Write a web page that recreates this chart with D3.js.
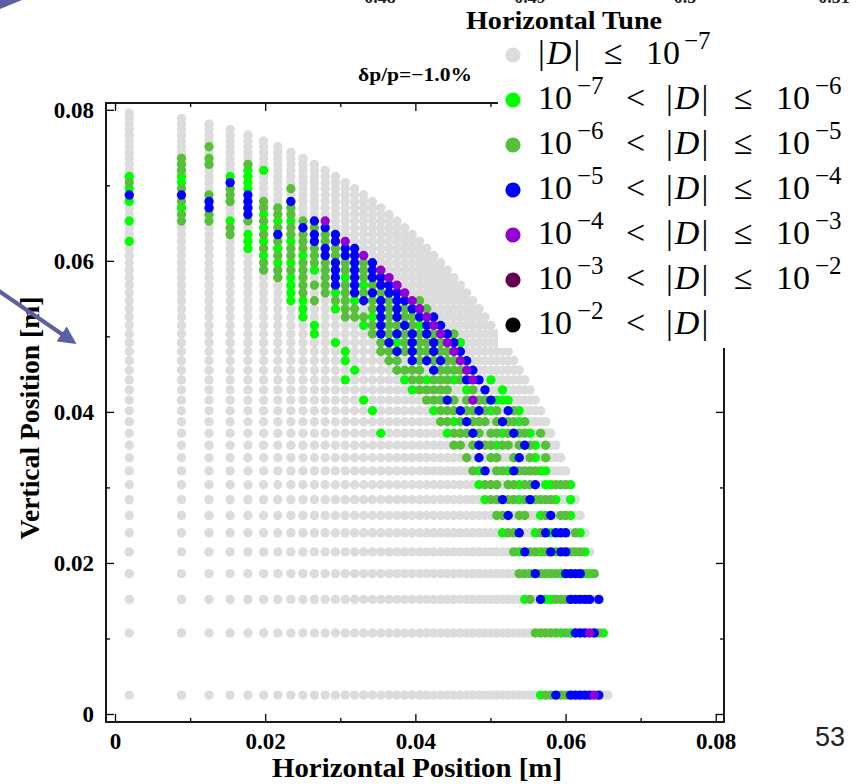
<!DOCTYPE html>
<html>
<head>
<meta charset="utf-8">
<script src="https://cdn.jsdelivr.net/npm/d3@7"></script>
<style>
  body { margin: 0; background: #fff; }
  svg { display: block; }
  text { white-space: pre; }
</style>
</head>
<body>
<svg id="chart" width="860" height="784"></svg>
<script>
// Horizontal launch amplitudes of the scan grid [m], one per column
const colX = [0.0019, 0.00885, 0.01252, 0.01533, 0.01770, 0.01979, 0.02168, 0.02342, 0.02503, 0.02655,
  0.02799, 0.02935, 0.03066, 0.03191, 0.03311, 0.03428, 0.03540, 0.03649, 0.03755, 0.03858,
  0.03958, 0.04056, 0.04151, 0.04244, 0.04336, 0.04425, 0.04513, 0.04599, 0.04683, 0.04766,
  0.04847, 0.04927, 0.05006, 0.05084, 0.05160, 0.05236, 0.05310, 0.05383, 0.05456, 0.05527,
  0.05597, 0.05667, 0.05735, 0.05803, 0.05870, 0.05937, 0.06002, 0.06067, 0.06131, 0.06195,
  0.06258, 0.06320, 0.06382, 0.06443, 0.06503, 0.06563];

// Vertical launch amplitudes [m], one per row
const rowY = [0.0025, 0.01073, 0.01517, 0.01858, 0.02146, 0.02399, 0.02628, 0.02839, 0.03035, 0.03219,
  0.03393, 0.03559, 0.03717, 0.03869, 0.04015, 0.04156, 0.04292, 0.04424, 0.04552, 0.04677,
  0.04799, 0.04917, 0.05033, 0.05146, 0.05257, 0.05365, 0.05471, 0.05576, 0.05678, 0.05778,
  0.05877, 0.05974, 0.06070, 0.06164, 0.06257, 0.06348, 0.06438, 0.06527, 0.06614, 0.06701,
  0.06786, 0.06871, 0.06954, 0.07036, 0.07117, 0.07198, 0.07277, 0.07356, 0.07434, 0.07511,
  0.07587, 0.07663, 0.07738, 0.07812, 0.07885, 0.07958];

// Last surviving column of every row
const rowLast = [55, 54, 53, 52, 51, 50, 49, 48, 47, 46, 45, 44, 43, 42, 41, 40, 39, 38, 37, 36,
  35, 34, 33, 32, 31, 30, 29, 28, 27, 26, 25, 24, 23, 22, 21, 20, 19, 18, 17, 16,
  15, 14, 13, 12, 11, 10, 9, 8, 7, 6, 5, 4, 3, 2, 1, 0];

// Diffusion class per particle: first column covered by the code string of each row,
// then one character per column ('.' |D|<=1e-7, 'l' 1e-7..1e-6, 'g' 1e-6..1e-5,
// 'b' 1e-5..1e-4, 'p' 1e-4..1e-3, 'm' 1e-3..1e-2, 'k' above 1e-2)
const codeStart = [41, 40, 38, 37, 36, 34, 33, 31, 30, 29,
  28, 26, 16, 24, 15, 14, 20, 12, 13, 12,
  12, 11, 9, 9, 8, 8, 7, 7, 7, 6,
  5, 5, 5, 4, 0, 3, 3, 0, 1, 1,
  0, 0, 0, 0, 0, 1, 1, 1, 0, 2];
const codeRows = [
  "lggbggbbbbbpb",
  "ggggglglbbbpbgl",
  "lg.bllgggbbbbb.b",
  "gggbgggglbbbbglg",
  "glbgglgblbbgggl",
  "lggb..lgblbbb.gl",
  "ggb.gg..lgb.ggl",
  "lggbgglgbggggl..l",
  "lggg.gglggb.llgggl",
  "glb.gglbggggll",
  "g.b.gg..gb.gl.g",
  "gg.gbgglgg.gbgl.g",
  "l........lgggbg.gglgbggl.g",
  "gglgbggg.gbgglg",
  "l.......lgggbggbglg.bgl",
  "l.......gggbg.gpggblll",
  "lggggg..lg.b..l",
  "l......lgglggglgbpb.l",
  "l....gggg.bggggpb",
  "l....gg.bgbgbggpb",
  "l...ggbgbggbggpb",
  "l....gblgbggbgpbl",
  "l.....gbgbgbgbgpbg",
  "l....lgbggbglbpb",
  "l...ggglbgbggbpb",
  "l..lgg.gbgbgbpg",
  "llg.gglbgbgbbpg",
  "lg.glgbgbgbbp",
  "lgggbgblgbbp",
  "glg.gblbgbbp",
  "gggglgbgbgbp",
  "gllgggbgbgb",
  "lgglgbgbbp",
  "lglgggbgbb",
  "l...llglgbgbp",
  "glgbggbgb",
  "g.lggbgb",
  "lgglggllgbp",
  "gg.blgg",
  "lb.bggg",
  "lgbgbg.b",
  "bbggb",
  "lg.gl..g",
  "gl.bl",
  "ll.ll",
  "g..ll",
  "gg.g",
  "gg",
  "",
  "g"
];

const classKeys = [".", "l", "g", "b", "p", "m", "k"];
const classColors = ["#dcdcdc", "#00ff00", "#57c03a", "#0000ff", "#9400d3", "#640050", "#000000"];

// Legend entries: [text, x position, kind] with kind 0 upright, 1 |D|, 2 superscript
const legendPieces = [
  [["|D|", 538, 1], ["≤", 604, 0], ["10", 646, 0], ["−7", 684, 2]],
  [["10", 538, 0], ["−7", 577, 2], ["<", 626, 0], ["|D|", 666, 1], ["≤", 734, 0], ["10", 776, 0], ["−6", 815, 2]],
  [["10", 538, 0], ["−6", 577, 2], ["<", 626, 0], ["|D|", 666, 1], ["≤", 734, 0], ["10", 776, 0], ["−5", 815, 2]],
  [["10", 538, 0], ["−5", 577, 2], ["<", 626, 0], ["|D|", 666, 1], ["≤", 734, 0], ["10", 776, 0], ["−4", 815, 2]],
  [["10", 538, 0], ["−4", 577, 2], ["<", 626, 0], ["|D|", 666, 1], ["≤", 734, 0], ["10", 776, 0], ["−3", 815, 2]],
  [["10", 538, 0], ["−3", 577, 2], ["<", 626, 0], ["|D|", 666, 1], ["≤", 734, 0], ["10", 776, 0], ["−2", 815, 2]],
  [["10", 538, 0], ["−2", 577, 2], ["<", 626, 0], ["|D|", 666, 1]]
];

const majorTicks = [0, 0.02, 0.04, 0.06, 0.08];
const minorTicks = [0.01, 0.03, 0.05, 0.07];
const tuneTickLabels = ["0.48", "0.49", "0.5", "0.51"];
const tuneTickPos = [380, 530, 685, 834];

const svg = d3.select("#chart");
const frame = { left: 106, top: 103, right: 724, bottom: 722 };

const x = d3.scaleLinear().domain([-0.0012, 0.0811]).range([frame.left, frame.right]);
const y = d3.scaleLinear().domain([-0.00106, 0.0809]).range([frame.bottom, frame.top]);

const serif = "'Liberation Serif', 'Times New Roman', serif";

// ---- particles ----
const points = [];
rowY.forEach((yv, r) => {
  const start = codeStart[r];
  const code = codeRows[r] || "";
  for (let c = 0; c <= rowLast[r]; c++) {
    let k = ".";
    if (start !== undefined && c >= start && c - start < code.length) k = code[c - start];
    points.push({ x: colX[c], y: yv, cls: classKeys.indexOf(k) });
  }
});

const dots = svg.append("g");
classKeys.forEach((k, i) => {
  dots.append("g")
    .attr("fill", classColors[i])
    .selectAll("circle")
    .data(points.filter(p => p.cls === i))
    .join("circle")
    .attr("cx", d => x(d.x))
    .attr("cy", d => y(d.y))
    .attr("r", 4.7);
});

// ---- frame and ticks ----
const fmt = d => (d === 0 ? "0" : d3.format(".2f")(d));
const H = frame.bottom - frame.top, W = frame.right - frame.left;

function styleAxis(g) {
  g.select(".domain").remove();
  g.selectAll(".tick line").attr("stroke", "#000").attr("stroke-width", 1.3);
  g.selectAll("text").attr("font-family", serif).attr("font-weight", "bold")
    .attr("font-size", 23).attr("fill", "#000");
}

svg.append("g").attr("transform", `translate(0,${frame.bottom})`)
  .call(d3.axisBottom(x).tickValues(majorTicks).tickSize(-8).tickPadding(11).tickFormat(fmt))
  .call(styleAxis);
svg.append("g").attr("transform", `translate(0,${frame.bottom})`)
  .call(d3.axisBottom(x).tickValues(minorTicks).tickSize(-4).tickFormat(""))
  .call(styleAxis);
svg.append("g").attr("transform", `translate(0,${frame.top})`)
  .call(d3.axisTop(x).tickValues(majorTicks).tickSize(-8).tickFormat(""))
  .call(styleAxis);
svg.append("g").attr("transform", `translate(0,${frame.top})`)
  .call(d3.axisTop(x).tickValues(minorTicks).tickSize(-4).tickFormat(""))
  .call(styleAxis);
svg.append("g").attr("transform", `translate(${frame.left},0)`)
  .call(d3.axisLeft(y).tickValues(majorTicks).tickSize(-8).tickPadding(12).tickFormat(fmt))
  .call(styleAxis);
svg.append("g").attr("transform", `translate(${frame.left},0)`)
  .call(d3.axisLeft(y).tickValues(minorTicks).tickSize(-4).tickFormat(""))
  .call(styleAxis);
svg.append("g").attr("transform", `translate(${frame.right},0)`)
  .call(d3.axisRight(y).tickValues(majorTicks).tickSize(-8).tickFormat(""))
  .call(styleAxis);
svg.append("g").attr("transform", `translate(${frame.right},0)`)
  .call(d3.axisRight(y).tickValues(minorTicks).tickSize(-4).tickFormat(""))
  .call(styleAxis);

svg.append("rect")
  .attr("x", frame.left).attr("y", frame.top).attr("width", W).attr("height", H)
  .attr("fill", "none").attr("stroke", "#000").attr("stroke-width", 1.8);

// ---- axis titles ----
svg.append("text")
  .attr("x", 417).attr("y", 777)
  .attr("text-anchor", "middle")
  .attr("font-family", serif).attr("font-weight", "bold").attr("font-size", 28)
  .attr("textLength", 290).attr("lengthAdjust", "spacingAndGlyphs")
  .text("Horizontal Position [m]");

svg.append("text")
  .attr("transform", "translate(39,418) rotate(-90)")
  .attr("text-anchor", "middle")
  .attr("font-family", serif).attr("font-weight", "bold").attr("font-size", 28)
  .attr("textLength", 243).attr("lengthAdjust", "spacingAndGlyphs")
  .text("Vertical Position [m]");

svg.append("text")
  .attr("x", 415).attr("y", 81)
  .attr("text-anchor", "middle")
  .attr("font-family", serif).attr("font-weight", "bold").attr("font-size", 19)
  .attr("textLength", 114).attr("lengthAdjust", "spacingAndGlyphs")
  .text("δp/p=−1.0%");

// ---- legend ----
const legend = svg.append("g");
legend.append("rect")
  .attr("x", 498).attr("y", 34).attr("width", 362).attr("height", 314)
  .attr("fill", "#fff");

legend.append("text")
  .attr("x", 466).attr("y", 29)
  .attr("font-family", serif).attr("font-weight", "bold").attr("font-size", 26)
  .attr("textLength", 196).attr("lengthAdjust", "spacingAndGlyphs")
  .text("Horizontal Tune");

legendPieces.forEach((pieces, i) => {
  const cy = 55 + i * 45;
  legend.append("circle")
    .attr("cx", 513).attr("cy", cy).attr("r", 7.6)
    .attr("fill", classColors[i]);
  pieces.forEach(([s, px, kind]) => {
    const t = legend.append("text")
      .attr("x", px)
      .attr("y", kind === 2 ? cy - 6 : cy + 9)
      .attr("font-family", serif)
      .attr("font-size", kind === 2 ? 25 : 34);
    if (kind === 1) {
      t.attr("letter-spacing", 2);
      t.append("tspan").text("|");
      t.append("tspan").attr("font-style", "italic").text("D");
      t.append("tspan").text("|");
    } else {
      t.text(s);
    }
  });
});

// ---- partly visible tune-axis labels of the panel above ----
tuneTickLabels.forEach((s, i) => {
  svg.append("text")
    .attr("x", tuneTickPos[i]).attr("y", 3)
    .attr("text-anchor", "middle")
    .attr("font-family", serif).attr("font-weight", "bold").attr("font-size", 18)
    .attr("fill", "#222")
    .text(s);
});

// ---- slide annotations ----
const arrowColor = "#5c5fa3";
svg.append("defs").append("marker")
  .attr("id", "head").attr("viewBox", "0 0 10 10").attr("refX", 7).attr("refY", 5)
  .attr("markerWidth", 4.5).attr("markerHeight", 4.5).attr("orient", "auto")
  .append("path").attr("d", "M0,0 L10,5 L0,10 z").attr("fill", arrowColor);
svg.append("line")
  .attr("x1", -4).attr("y1", 289).attr("x2", 72).attr("y2", 341)
  .attr("stroke", arrowColor).attr("stroke-width", 4)
  .attr("marker-end", "url(#head)");
svg.append("path")
  .attr("d", "M0,0 L22,0 L0,9 Z")
  .attr("fill", arrowColor);

svg.append("text")
  .attr("x", 830).attr("y", 746)
  .attr("text-anchor", "middle")
  .attr("font-family", "'Liberation Sans', Arial, sans-serif").attr("font-size", 27)
  .attr("fill", "#222")
  .text("53");
</script>
</body>
</html>
